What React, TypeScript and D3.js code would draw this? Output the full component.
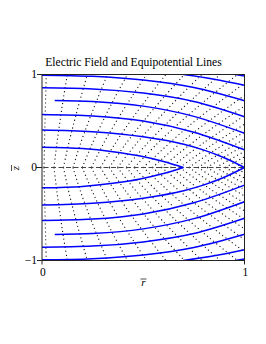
import React from "react";
import * as d3 from "d3";

const TITLE = "Electric Field and Equipotential Lines";
const R_TICKS = [0, 1];
const Z_TICKS = [-1, 0, 1];

// Equipotential lines (upper half, [r, z]); lower half is the mirror image
const EQ_A = [[0, 0.218], [0.2, 0.203], [0.35, 0.17], [0.485, 0.123], [0.6, 0.065], [0.698, 0]];
const EQ_B = [[0, 0.404], [0.25, 0.385], [0.5, 0.33], [0.7, 0.25], [0.8, 0.187], [0.9, 0.105], [1, 0]];
const EQ_C = [[0, 0.571], [0.25, 0.555], [0.5, 0.5], [0.75, 0.38], [1, 0.19]];
const EQ_D = [[0.063, 0.721], [0.25, 0.71], [0.5, 0.66], [0.75, 0.55], [1, 0.368]];
const EQ_E = [[0, 0.857], [0.25, 0.845], [0.5, 0.8], [0.75, 0.71], [1, 0.546]];
const EQ_F = [[0, 0.993], [0.25, 0.98], [0.5, 0.94], [0.75, 0.86], [1, 0.718]];
const EQ_G = [[0.698, 1.0], [0.85, 0.95], [1, 0.885]];
const EQ_H = [[0.955, 1.0], [1, 0.985]];
const EQUIPOTENTIALS = [EQ_A, EQ_B, EQ_C, EQ_D, EQ_E, EQ_F, EQ_G, EQ_H];

// Field lines (upper half, [r, z] at z = 0, 0.25, 0.5, 0.75, 1)
const FL_TOP_R0 = [0.0099, 0.059, 0.106, 0.153, 0.199, 0.244, 0.289, 0.332, 0.373, 0.416, 0.456];
const FL_TOP_R25 = [0.0123, 0.073, 0.131, 0.189, 0.247, 0.302, 0.359, 0.412, 0.463, 0.516, 0.566];
const FL_TOP_R50 = [0.015, 0.089, 0.16, 0.231, 0.301, 0.368, 0.437, 0.502, 0.564, 0.628, 0.689];
const FL_TOP_R75 = [0.018, 0.106, 0.191, 0.276, 0.359, 0.44, 0.522, 0.599, 0.673, 0.75, 0.823];
const FL_TOP_R100 = [0.021, 0.125, 0.224, 0.323, 0.422, 0.516, 0.612, 0.703, 0.789, 0.88, 0.965];
// Field lines leaving through the right edge: start r, middle point, exit height
const FL_SIDE_R0 = [0.5, 0.545, 0.59, 0.635, 0.68, 0.725, 0.77, 0.815, 0.86, 0.905, 0.95];
const FL_SIDE_RMID = [0.729, 0.755, 0.781, 0.806, 0.832, 0.856, 0.881, 0.905, 0.928, 0.952, 0.975];
const FL_SIDE_ZEXIT = [0.907, 0.774, 0.66, 0.556, 0.466, 0.382, 0.306, 0.237, 0.172, 0.113, 0.058];

const W = 266, H = 344;
const X0 = 42, X1 = 244.5, YT = 74.5, YB = 260.5;

export default function App() {
  const x = d3.scaleLinear().domain([0, 1]).range([X0, X1]);
  const y = d3.scaleLinear().domain([-1, 1]).range([YB, YT]);

  const eqLine = d3.line<number[]>().x(d => x(d[0])).y(d => y(d[1])).curve(d3.curveMonotoneX);
  const flLine = d3.line<number[]>().x(d => x(d[0])).y(d => y(d[1])).curve(d3.curveCatmullRom);

  const fieldLines: number[][][] = [];
  FL_TOP_R0.forEach((r0, i) => {
    fieldLines.push([[r0, 0], [FL_TOP_R25[i], 0.25], [FL_TOP_R50[i], 0.5], [FL_TOP_R75[i], 0.75], [FL_TOP_R100[i], 1]]);
  });
  FL_SIDE_R0.forEach((r0, i) => {
    fieldLines.push([[r0, 0], [FL_SIDE_RMID[i], FL_SIDE_ZEXIT[i] / 2], [1, FL_SIDE_ZEXIT[i]]]);
  });
  const mirror = (pts: number[][]) => pts.map(p => [p[0], -p[1]]);

  const serif = "'Liberation Serif', 'Times New Roman', serif";

  return (
    <svg width={W} height={H} style={{ position: "absolute", left: 0, top: 0, background: "#fff" }}>
      <defs>
        <clipPath id="plotclip">
          <rect x={X0} y={YT} width={X1 - X0} height={YB - YT} />
        </clipPath>
      </defs>
      <text x={133.5} y={66} textAnchor="middle" fontFamily={serif} fontSize={11.6} fill="#000">{TITLE}</text>

      <g clipPath="url(#plotclip)">
        {fieldLines.map((pts, i) => (
          <g key={"f" + i}>
            <path d={flLine(pts) || ""} fill="none" stroke="#111" strokeWidth={1.1} strokeDasharray="1.1 2.9" />
            <path d={flLine(mirror(pts)) || ""} fill="none" stroke="#111" strokeWidth={1.1} strokeDasharray="1.1 2.9" />
          </g>
        ))}
      </g>

      <line x1={36} x2={X1} y1={y(0)} y2={y(0)} stroke="#444" strokeWidth={1.2} strokeDasharray="5 2.5" />

      <g clipPath="url(#plotclip)">
        {EQUIPOTENTIALS.map((pts, i) => (
          <g key={"e" + i}>
            <path d={eqLine(pts) || ""} fill="none" stroke="#0000ff" strokeWidth={1.5} />
            <path d={eqLine(mirror(pts)) || ""} fill="none" stroke="#0000ff" strokeWidth={1.5} />
          </g>
        ))}
      </g>

      <rect x={X0} y={YT} width={X1 - X0} height={YB - YT} fill="none" stroke="#222" strokeWidth={1} />

      {Z_TICKS.map(t => (
        <g key={"zt" + t}>
          <line x1={37} x2={X0} y1={y(t)} y2={y(t)} stroke="#222" strokeWidth={1} />
          <text x={37} y={y(t) + 3.8} textAnchor="end" fontFamily={serif} fontSize={11.5} fill="#000">
            {t < 0 ? "\u2212" + Math.abs(t) : String(t)}
          </text>
        </g>
      ))}
      {R_TICKS.map(t => (
        <g key={"rt" + t}>
          <line x1={x(t)} x2={x(t)} y1={YB} y2={YB + 4} stroke="#222" strokeWidth={1} />
          <text x={x(t) + 0.8} y={275.5} textAnchor="middle" fontFamily={serif} fontSize={11.5} fill="#000">{String(t)}</text>
        </g>
      ))}

      <text x={143.5} y={286} textAnchor="middle" fontFamily={serif} fontStyle="italic" fontSize={11} fill="#000">r</text>
      <line x1={140.5} x2={146.5} y1={279} y2={279} stroke="#000" strokeWidth={0.7} />

      <g transform="translate(18.5,168) rotate(-90)">
        <text x={0} y={0} textAnchor="middle" fontFamily={serif} fontStyle="italic" fontSize={11} fill="#000">z</text>
        <line x1={-3} x2={3} y1={-7} y2={-7} stroke="#000" strokeWidth={0.7} />
      </g>
    </svg>
  );
}
